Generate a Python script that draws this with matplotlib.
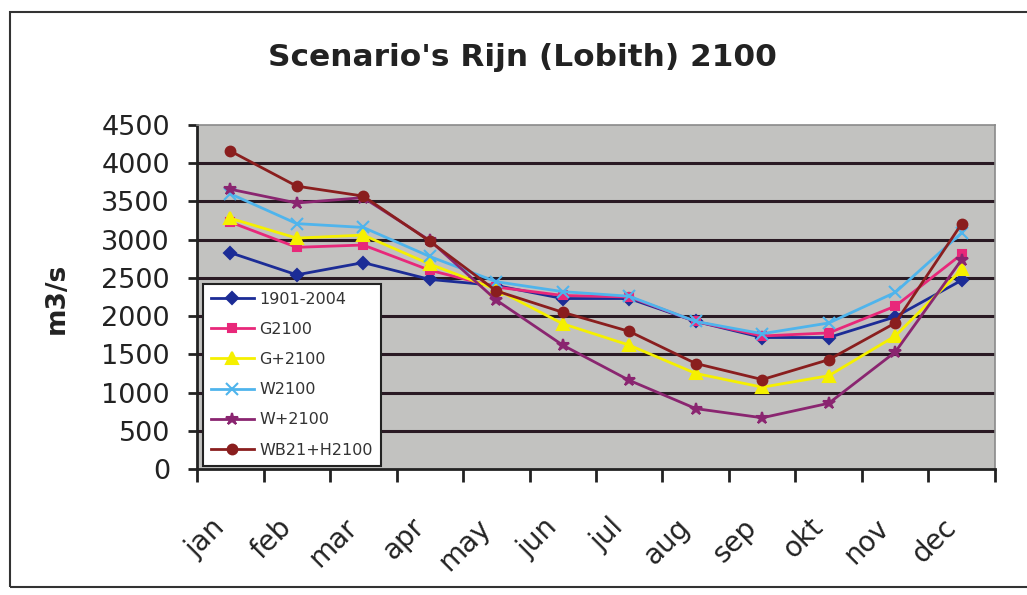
import matplotlib
matplotlib.use("Agg")
import matplotlib.pyplot as plt
from matplotlib.patches import Rectangle
from matplotlib.transforms import ScaledTranslation
import numpy as np

months = ["jan", "feb", "mar", "apr", "may", "jun", "jul", "aug", "sep", "okt", "nov", "dec"]
s_1901 = [2830, 2540, 2700, 2480, 2400, 2230, 2230, 1930, 1720, 1720, 1990, 2470]
s_G = [3230, 2900, 2930, 2600, 2380, 2270, 2250, 1930, 1740, 1780, 2130, 2810]
s_Gp = [3280, 3020, 3060, 2680, 2350, 1900, 1620, 1250, 1070, 1220, 1740, 2610]
s_W = [3600, 3210, 3160, 2780, 2450, 2320, 2260, 1930, 1770, 1910, 2310, 3090]
s_Wp = [3660, 3480, 3550, 2990, 2210, 1620, 1160, 790, 670, 860, 1530, 2740]
s_WB = [4160, 3700, 3570, 2980, 2330, 2050, 1800, 1380, 1170, 1430, 1910, 3210]
labels = ["1901-2004", "G2100", "G+2100", "W2100", "W+2100", "WB21+H2100"]
yticks = [0, 500, 1000, 1500, 2000, 2500, 3000, 3500, 4000, 4500]

plt.rcParams['font.family'] = ['DejaVu Sans']

fig = plt.figure(figsize=(10.27, 5.95), dpi=100)
fig.patch.set_facecolor("white")
ax = fig.add_axes([197/1027, 1-469/595, (995-197)/1027, (469-125)/595])
ax.set_facecolor("#c2c2c0")

x = np.arange(len(months))
styles = [
    (s_1901, "#1c2c96", "D", 6),
    (s_G, "#e8287a", "s", 6),
    (s_Gp, "#f5f000", "^", 8),
    (s_W, "#4fb4ec", "x", 8),
    (s_Wp, "#8a2570", "*", 9),
    (s_WB, "#8a1e1e", "o", 7),
]
for (vals, col, mk, ms), lab in zip(styles, labels):
    ax.plot(x, vals, color=col, lw=2, marker=mk, ms=ms, mew=1.5,
            mec=col, mfc=col, label=lab, zorder=3)

ax.set_xlim(-0.5, 11.5)
ax.set_ylim(0, 4500)
ax.set_yticks(yticks)
ax.set_yticklabels([str(v) for v in yticks], fontsize=19.5, color="#222")
for v in yticks[1:-1]:
    ax.axhline(v, color="#2a1a24", lw=2.2, zorder=1)

ax.set_xticks(np.arange(-0.5, 12, 1.0))
ax.set_xticklabels([])
ax.set_xticks(x, minor=True)
ax.set_xticklabels(months, minor=True, rotation=45, ha="right", va="top",
                   rotation_mode="anchor", fontsize=20, color="#222")
ax.tick_params(axis="x", which="minor", length=0, pad=0)
ax.tick_params(axis="x", which="major", length=9, width=2, direction="out", color="#222")
ax.tick_params(axis="y", length=6.5, width=2, direction="out", color="#222", pad=13)
off = ScaledTranslation(-0.20, -0.44, fig.dpi_scale_trans)
for lbl in ax.get_xticklabels(minor=True):
    lbl.set_transform(lbl.get_transform() + off)

for side in ["left", "bottom"]:
    ax.spines[side].set_color("#222")
    ax.spines[side].set_linewidth(2)
for side in ["top", "right"]:
    ax.spines[side].set_color("#8a8a8a")
    ax.spines[side].set_linewidth(1.2)

fig.text(57/1027, 1-298/595, "m3/s", rotation=90, ha="center", va="center",
         fontsize=19, fontweight="bold", color="#222")

fig.text(522/1027, 1-57/595, "Scenario's Rijn (Lobith) 2100", ha="center", va="center",
         fontsize=22.5, fontweight="bold", color="#222")

leg = ax.legend(loc="lower left", bbox_to_anchor=(0.007, 0.01), borderaxespad=0,
                fontsize=11.5, frameon=True, fancybox=False, framealpha=1,
                edgecolor="#222", facecolor="white", labelspacing=0.95,
                handlelength=2.7, handletextpad=0.35, borderpad=0.5)
leg.get_frame().set_linewidth(1.5)
for t in leg.get_texts():
    t.set_color("#333")

fig.patches.append(Rectangle((10/1027, 8/595), 1.2, 1-20/595, transform=fig.transFigure,
                             fill=False, edgecolor="#333", lw=1.5, figure=fig))

fig.savefig("out.png", dpi=100)
